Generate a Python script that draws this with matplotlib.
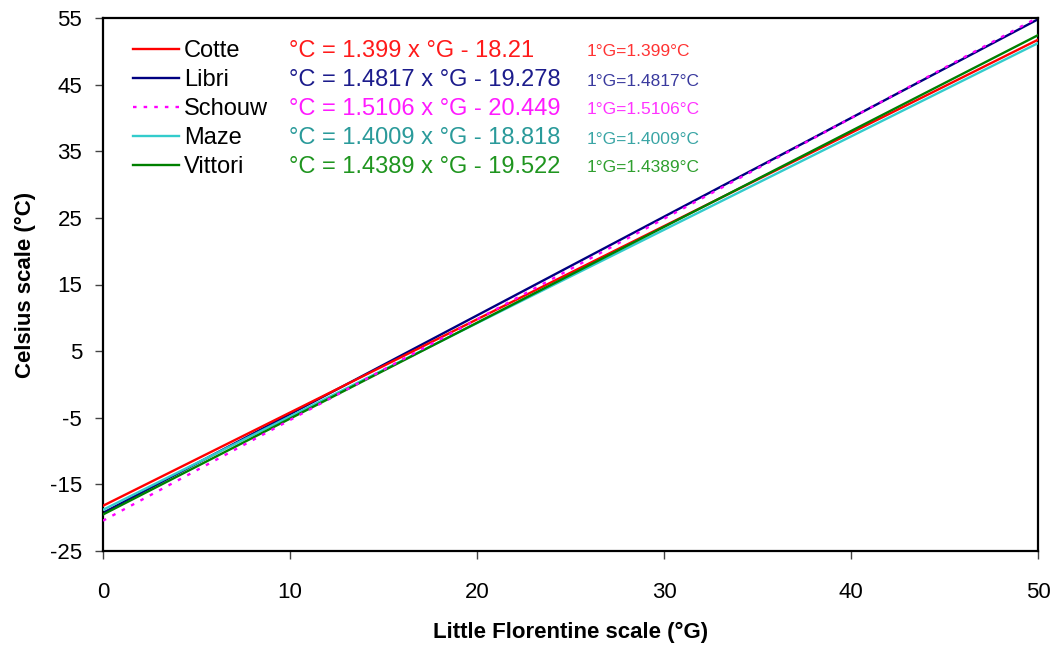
import matplotlib

matplotlib.use("Agg")
import matplotlib.pyplot as plt

plt.rcParams["font.family"] = ["Liberation Sans", "DejaVu Sans"]
plt.rcParams["axes.unicode_minus"] = False

# scales compared against Celsius: slope / offset as written on the chart
NAMES = ["Cotte", "Libri", "Schouw", "Maze", "Vittori"]
SLOPES = [1.399, 1.4817, 1.5106, 1.4009, 1.4389]
INTERCEPTS = [-18.21, -19.278, -20.449, -18.818, -19.522]
X_ENDS = [0, 50]
EQUATIONS = [
    "°C = 1.399 x °G - 18.21",
    "°C = 1.4817 x °G - 19.278",
    "°C = 1.5106 x °G - 20.449",
    "°C = 1.4009 x °G - 18.818",
    "°C = 1.4389 x °G - 19.522",
]
UNITS = ["1°G=1.399°C", "1°G=1.4817°C", "1°G=1.5106°C",
         "1°G=1.4009°C", "1°G=1.4389°C"]
X_TICKS = [0, 10, 20, 30, 40, 50]
Y_TICKS = [-25, -15, -5, 5, 15, 25, 35, 45, 55]

LINE_COLORS = ["#ff0000", "#000080", "#ff00ff", "#33cccc", "#008000"]
TEXT_COLORS = ["#ff1a1a", "#1c1c8c", "#ff1aff", "#2a9a9a", "#1f951f"]
SMALL_COLORS = ["#ff3333", "#3a3a9e", "#ff33ff", "#3aa5a5", "#2f9f2f"]
STYLES = ["-", "-", (0, (1.5, 3)), "-", "-"]
ZORDER = [3, 2, 6, 4, 5]

W, H = 1056, 645
fig = plt.figure(figsize=(W / 100, H / 100), dpi=100, facecolor="white")
ax = fig.add_axes([103 / W, 1 - 551 / H, (1038 - 103) / W, (551 - 18) / H])

handles = []
for name, a, b, col, ls, z in zip(NAMES, SLOPES, INTERCEPTS, LINE_COLORS, STYLES, ZORDER):
    ys = [a * x + b for x in X_ENDS]
    h, = ax.plot(X_ENDS, ys, color=col, lw=1.7, ls=ls, label=name, zorder=z)
    handles.append(h)

ax.set_xlim(0, 50)
ax.set_ylim(-25, 55)
ax.set_xticks(X_TICKS)
ax.set_yticks(Y_TICKS)
ax.tick_params(direction="out", length=6, width=1.0, color="#444444", labelsize=16)
ax.tick_params(axis="x", pad=16)
ax.tick_params(axis="y", pad=9)
for sp in ax.spines.values():
    sp.set_linewidth(1.6)
    sp.set_color("black")

ax.set_xlabel("Little Florentine scale (°G)", fontsize=16, fontweight="bold", labelpad=14)
ax.set_ylabel("Celsius scale (°C)", fontsize=16, fontweight="bold", labelpad=10)

ax.legend(handles=handles, loc="upper left", bbox_to_anchor=(30 / 935, 1 - 22 / 533),
          frameon=False, fontsize=17, handlelength=1.95, handletextpad=0.2,
          labelspacing=0.3, borderaxespad=0, borderpad=0)

row_y = [51, 80, 109, 138, 167]
for yp, eq, un, tc, sc in zip(row_y, EQUATIONS, UNITS, TEXT_COLORS, SMALL_COLORS):
    fig.text(289 / W, 1 - yp / H, eq, color=tc, fontsize=17, va="center")
    fig.text(587 / W, 1 - (yp + 1) / H, un, color=sc, fontsize=12.5, va="center")

fig.savefig("out.png", dpi=100, facecolor="white")
